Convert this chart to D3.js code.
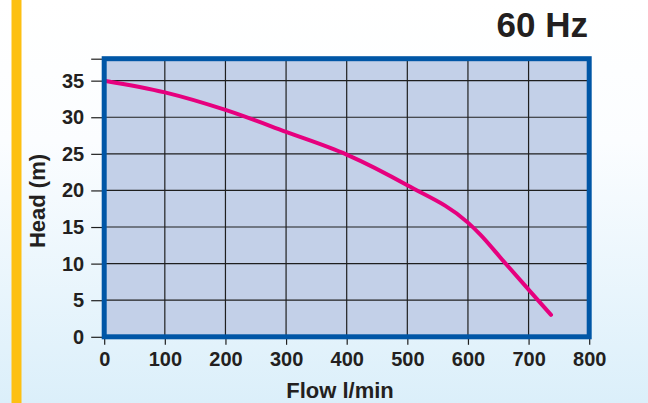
<!DOCTYPE html>
<html>
<head>
<meta charset="utf-8">
<script src="https://cdn.jsdelivr.net/npm/d3@7"></script>
<style>
  body { margin: 0; padding: 0; overflow: hidden; }
  svg { display: block; font-family: "Liberation Sans", Arial, sans-serif; }
</style>
</head>
<body>
<svg id="chart" width="648" height="403"></svg>
<script>
// pump curve, 60 Hz
const flow = [0, 100, 200, 300, 400, 500, 600, 620, 660, 700, 737];
const head = [35, 33.4, 31, 28, 24.9, 20.7, 15.6, 14, 10.2, 6.45, 3];
const xTicks = [0, 100, 200, 300, 400, 500, 600, 700, 800];
const yTicks = [0, 5, 10, 15, 20, 25, 30, 35];
const title = "60 Hz";

const svg = d3.select("#chart");
const plotLeft = 104.2, plotRight = 589.2, plotTop = 58.7, plotBottom = 336.8;

const xScale = d3.scaleLinear().domain([0, 800]).range([plotLeft, plotRight]);
const yScale = d3.scaleLinear().domain([0, 38]).range([plotBottom, plotTop]);

// page background
const defs = svg.append("defs");
const grad = defs.append("linearGradient")
  .attr("id", "bg").attr("x1", 0).attr("y1", 0).attr("x2", 0).attr("y2", 1);
grad.append("stop").attr("offset", "0%").attr("stop-color", "#ffffff");
grad.append("stop").attr("offset", "35%").attr("stop-color", "#fbfdff");
grad.append("stop").attr("offset", "100%").attr("stop-color", "#dbeffa");
svg.append("rect").attr("width", 648).attr("height", 403).attr("fill", "url(#bg)");

// yellow bar
svg.append("rect").attr("x", 11.5).attr("y", 0).attr("width", 10).attr("height", 403)
  .attr("fill", "#fdc012");

// plot area
svg.append("rect")
  .attr("x", plotLeft).attr("y", plotTop)
  .attr("width", plotRight - plotLeft).attr("height", plotBottom - plotTop)
  .attr("fill", "#c3d0e8");

// grid
const grid = svg.append("g").attr("stroke", "#1f1f1f").attr("stroke-width", 1.2);
grid.selectAll(".vgrid")
  .data(xTicks.filter(d => d > 0 && d < 800))
  .enter().append("line")
  .attr("x1", d => xScale(d)).attr("x2", d => xScale(d))
  .attr("y1", plotTop).attr("y2", plotBottom);
grid.selectAll(".hgrid")
  .data(yTicks.filter(d => d > 0))
  .enter().append("line")
  .attr("y1", d => yScale(d)).attr("y2", d => yScale(d))
  .attr("x1", plotLeft).attr("x2", plotRight);

// axes
const xAxis = d3.axisBottom(xScale).tickValues(xTicks).tickSize(8).tickPadding(7).tickFormat(d3.format("d"));
const yAxis = d3.axisLeft(yScale).tickValues(yTicks.concat([38])).tickSize(13).tickPadding(7)
  .tickFormat(d => d === 38 ? "" : d);

const gx = svg.append("g").attr("transform", `translate(0,${plotBottom})`).call(xAxis);
const gy = svg.append("g").attr("transform", `translate(${plotLeft},0)`).call(yAxis);
[gx, gy].forEach(g => {
  g.select(".domain").remove();
  g.selectAll(".tick line").attr("stroke", "#1f1f1f").attr("stroke-width", 1.2);
  g.selectAll(".tick text")
    .attr("fill", "#231f20")
    .style("font-size", "20px")
    .style("font-weight", "bold")
    .style("font-family", "'Liberation Sans', Arial, sans-serif");
});

// curve
const line = d3.line()
  .x((d, i) => xScale(flow[i]))
  .y(d => yScale(d))
  .curve(d3.curveMonotoneX);
svg.append("path")
  .datum(head)
  .attr("d", line)
  .attr("fill", "none")
  .attr("stroke", "#e6007e")
  .attr("stroke-width", 4)
  .attr("stroke-linecap", "round");

// frame
svg.append("rect")
  .attr("x", plotLeft).attr("y", plotTop)
  .attr("width", plotRight - plotLeft).attr("height", plotBottom - plotTop)
  .attr("fill", "none")
  .attr("stroke", "#0056a6")
  .attr("stroke-width", 5);

// labels
svg.append("text")
  .attr("x", 588).attr("y", 37)
  .attr("text-anchor", "end")
  .attr("fill", "#231f20")
  .style("font-size", "35px").style("font-weight", "bold")
  .text(title);

svg.append("text")
  .attr("x", 340).attr("y", 398)
  .attr("text-anchor", "middle")
  .attr("fill", "#231f20")
  .style("font-size", "22px").style("font-weight", "bold")
  .text("Flow l/min");

svg.append("text")
  .attr("transform", "translate(45,201) rotate(-90)")
  .attr("text-anchor", "middle")
  .attr("fill", "#231f20")
  .style("font-size", "22px").style("font-weight", "bold")
  .text("Head (m)");
</script>
</body>
</html>
